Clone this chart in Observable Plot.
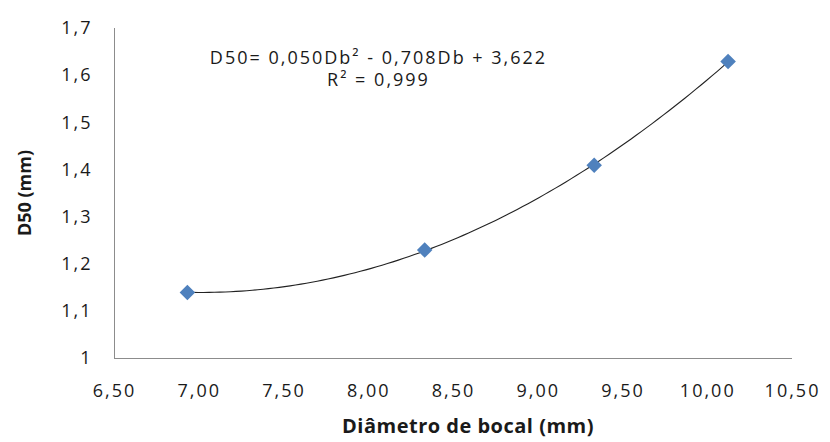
<!DOCTYPE html>
<html><head><meta charset="utf-8">
<script src="https://cdn.jsdelivr.net/npm/d3@7"></script>
<script src="https://cdn.jsdelivr.net/npm/@observablehq/plot@0.6"></script>
<style>
body{margin:0;background:#fff;}
</style></head><body><div id="chart"></div>
<script>
const diametro = [6.93, 8.33, 9.33, 10.12];
const d50 = [1.14, 1.23, 1.41, 1.63];
const xTicks = [6.5, 7, 7.5, 8, 8.5, 9, 9.5, 10, 10.5];
const yTicks = [1, 1.1, 1.2, 1.3, 1.4, 1.5, 1.6, 1.7];
const equationLines = ["D50= 0,050Db² - 0,708Db + 3,622", "R² = 0,999"];
const xTitle = "Diâmetro de bocal (mm)";
const yTitle = "D50 (mm)";

const pts = diametro.map((x, i) => ({x, y: d50[i]}));

// quadratic least squares fit (Excel-like polynomial trendline)
function quadFit(xs, ys) {
  const n = xs.length;
  let S = [0,0,0,0,0], T = [0,0,0];
  for (let i = 0; i < n; i++) {
    let p = 1;
    for (let k = 0; k < 5; k++) { S[k] += p; p *= xs[i]; }
    p = 1;
    for (let k = 0; k < 3; k++) { T[k] += p * ys[i]; p *= xs[i]; }
  }
  const A = [[S[0],S[1],S[2],T[0]],[S[1],S[2],S[3],T[1]],[S[2],S[3],S[4],T[2]]];
  for (let i = 0; i < 3; i++) {
    for (let j = i+1; j < 3; j++) {
      const f = A[j][i]/A[i][i];
      for (let k = i; k < 4; k++) A[j][k] -= f*A[i][k];
    }
  }
  const c = [0,0,0];
  for (let i = 2; i >= 0; i--) {
    let s = A[i][3];
    for (let k = i+1; k < 3; k++) s -= A[i][k]*c[k];
    c[i] = s/A[i][i];
  }
  return c;
}
const c = quadFit(diametro, d50);
const x0 = d3.min(diametro), x1 = d3.max(diametro);
const curve = d3.range(0, 101).map(i => {
  const x = x0 + (x1 - x0) * i / 100;
  return {x, y: c[0] + c[1]*x + c[2]*x*x};
});

const fmtX = d => d.toFixed(2).replace(".", ",");
const fmtY = d => (Math.round(d*10)/10).toString().replace(".", ",");

const chart = Plot.plot({
  width: 830, height: 442,
  marginLeft: 114, marginRight: 38, marginTop: 28, marginBottom: 84,
  style: {fontFamily: "'Open Sans', sans-serif", fontSize: "18px", color: "#1a1a1a", letterSpacing: "2px"},
  x: {domain: [6.5, 10.5], ticks: xTicks, tickFormat: fmtX, tickSize: 0, tickPadding: 26, label: null},
  y: {domain: [1, 1.7], ticks: yTicks, tickFormat: fmtY, tickSize: 0, tickPadding: 22, label: null},
  marks: [
    Plot.ruleX([6.5], {stroke: "#8c8c8c", strokeWidth: 1}),
    Plot.ruleY([1], {stroke: "#8c8c8c", strokeWidth: 1}),
    Plot.line(curve, {x: "x", y: "y", stroke: "#222", strokeWidth: 1.1}),
    Plot.dot(pts, {x: "x", y: "y", symbol: "diamond2", r: 7, fill: "#4F81BD", stroke: "none"}),
    Plot.text([equationLines.join("\n")], {frameAnchor: "top", lineAnchor: "top", dx: -75, dy: 20,
      lineHeight: 1.22, fontSize: 18, fill: "#1a1a1a"}),
  ]
});
document.getElementById("chart").appendChild(chart);

const svg = d3.select(chart);
svg.append("text").attr("x", 468).attr("y", 433).attr("text-anchor", "middle")
  .attr("font-weight", "bold").attr("font-size", 20).style("letter-spacing", "0.5px").attr("fill", "#1a1a1a").text(xTitle);
svg.append("text").attr("transform", "translate(31,193) rotate(-90)").attr("text-anchor", "middle")
  .attr("font-weight", "bold").attr("font-size", 18).style("letter-spacing", "0px").attr("fill", "#1a1a1a").text(yTitle);
</script></body></html>
